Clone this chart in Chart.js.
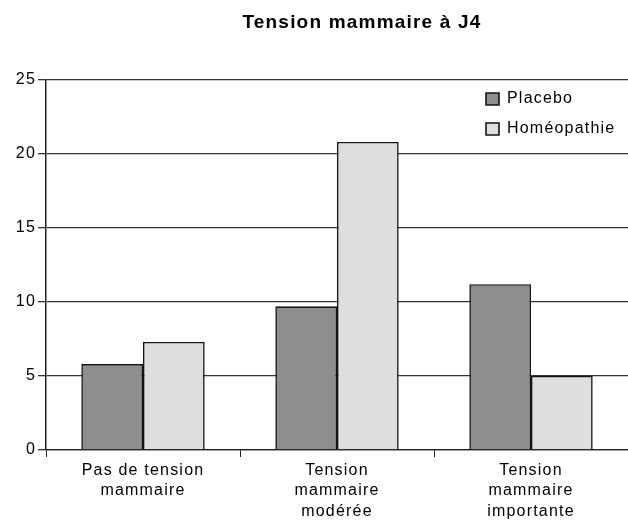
<!DOCTYPE html>
<html>
<head>
<meta charset="utf-8">
<script src="https://cdn.jsdelivr.net/npm/chart.js@4/dist/chart.umd.min.js"></script>
<style>
  body { margin: 0; background: #fff; }
  canvas { display: block; }
</style>
</head>
<body>
<canvas id="tensionChart" width="628" height="528"></canvas>
<script>
const categories = [
    ['Pas de tension', 'mammaire'],
    ['Tension', 'mammaire', 'modérée'],
    ['Tension', 'mammaire', 'importante']
];
const placebo = [5.8, 9.7, 11.2];
const homeopathie = [7.3, 20.8, 5.0];
const yTicks = [0, 5, 10, 15, 20, 25];

Chart.defaults.font.family = '"Liberation Sans", Arial, sans-serif';
Chart.defaults.color = '#000';

// the printed labels are widely tracked, so space the letters out a bit
const letterSpacing = {
    id: 'letterSpacing',
    beforeLayout(chart) { chart.ctx.letterSpacing = '1.2px'; },
    beforeDraw(chart) { chart.ctx.letterSpacing = '1.2px'; }
};

// legend sits inside the plot (top right) and the title is pushed right
const placeBoxes = {
    id: 'placeBoxes',
    afterLayout(chart) {
        chart.legend.left = 472;
        chart.legend.top = 77;
        chart.titleBlock.left += 48;
        chart.titleBlock.right += 48;
    }
};

const ctx = document.getElementById('tensionChart').getContext('2d');
const tensionChart = new Chart(ctx, {
    type: 'bar',
    data: {
        labels: categories,
        datasets: [
            {
                label: 'Placebo',
                data: placebo,
                backgroundColor: '#8e8e8e',
                borderColor: '#141414',
                borderWidth: 1.6
            },
            {
                label: 'Homéopathie',
                data: homeopathie,
                backgroundColor: '#dedede',
                borderColor: '#141414',
                borderWidth: 1.6
            }
        ]
    },
    options: {
        responsive: false,
        animation: false,
        layout: { padding: 0 },
        datasets: {
            bar: { categoryPercentage: 0.636, barPercentage: 1 }
        },
        plugins: {
            title: {
                display: true,
                text: 'Tension mammaire à J4',
                color: '#000',
                font: { size: 19, weight: 'bold', lineHeight: 1.2 },
                padding: { top: 11, bottom: 46 }
            },
            legend: {
                position: 'chartArea',
                align: 'start',
                labels: {
                    boxWidth: 13,
                    boxHeight: 12,
                    padding: 14,
                    color: '#000',
                    font: { size: 16 }
                }
            },
            tooltip: { enabled: false }
        },
        scales: {
            x: {
                grid: {
                    drawOnChartArea: false,
                    drawTicks: true,
                    tickLength: 7,
                    color: '#222'
                },
                border: { color: '#222', width: 1.3 },
                ticks: {
                    padding: 3,
                    maxRotation: 0,
                    font: { size: 16, lineHeight: 1.28 }
                },
                afterFit(scale) { scale.height = 78; }
            },
            y: {
                min: 0,
                max: 25,
                z: 1,
                afterBuildTicks(scale) {
                    scale.ticks = yTicks.map(v => ({ value: v }));
                },
                grid: {
                    color: '#333',
                    lineWidth: 1.3,
                    tickLength: 8
                },
                border: { color: '#222', width: 1.5 },
                ticks: {
                    padding: 2,
                    font: { size: 16 }
                },
                afterFit(scale) { scale.width = 46; }
            }
        }
    },
    plugins: [letterSpacing, placeBoxes]
});
</script>
</body>
</html>
